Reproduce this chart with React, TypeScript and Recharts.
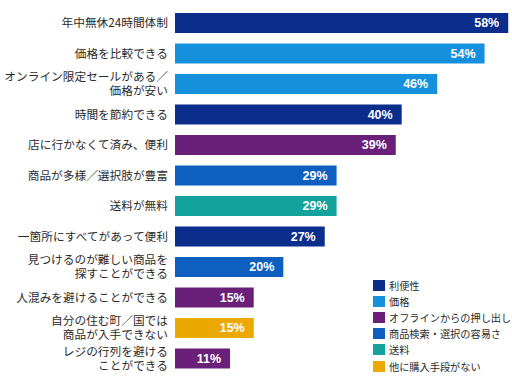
import { BarChart, Bar, XAxis, YAxis, Cell, LabelList } from "recharts";

// 設問の選択肢（改行は "\n"）
const categories = [
  "年中無休24時間体制",
  "価格を比較できる",
  "オンライン限定セールがある／\n価格が安い",
  "時間を節約できる",
  "店に行かなくて済み、便利",
  "商品が多様／選択肢が豊富",
  "送料が無料",
  "一箇所にすべてがあって便利",
  "見つけるのが難しい商品を\n探すことができる",
  "人混みを避けることができる",
  "自分の住む町／国では\n商品が入手できない",
  "レジの行列を避ける\nことができる",
];

const values = [58, 54, 46, 40, 39, 29, 29, 27, 20, 15, 15, 11];

// index into groups for each bar
const groupOfBar = [0, 1, 1, 0, 2, 3, 4, 0, 3, 2, 5, 2];

const groups = [
  "利便性",
  "価格",
  "オフラインからの押し出し",
  "商品検索・選択の容易さ",
  "送料",
  "他に購入手段がない",
];

const groupColors = ["#0b2d8c", "#1590dc", "#6a1f78", "#0f5fc0", "#14a39c", "#eba900"];

const data = categories.map((label, i) => ({ label, value: values[i], group: groupOfBar[i] }));

const FONT = "'Noto Sans CJK JP', 'Noto Sans', sans-serif";

function CategoryTick(props: any) {
  const { y, payload } = props;
  const lines: string[] = String(payload.value).split("\n");
  const lineH = 14;
  const start = y - ((lines.length - 1) * lineH) / 2;
  return (
    <text x={168} y={start} textAnchor="end" fill="#2b2b2b" fontSize={11.7} fontFamily={FONT}>
      {lines.map((ln, i) => (
        <tspan key={i} x={168} y={start + i * lineH} dy="0.36em">
          {ln}
        </tspan>
      ))}
    </text>
  );
}

function GroupLegend() {
  return (
    <div
      style={{
        position: "absolute",
        left: 373,
        top: 277,
        fontFamily: FONT,
        fontSize: 10.2,
        color: "#2b2b2b",
        whiteSpace: "nowrap",
      }}
    >
      {groups.map((g, i) => (
        <div key={g} style={{ display: "flex", alignItems: "center", height: 16.2 }}>
          <span
            style={{ width: 12, height: 11, background: groupColors[i], display: "inline-block", marginRight: 4 }}
          />
          <span>{g}</span>
        </div>
      ))}
    </div>
  );
}

export default function App() {
  return (
    <div style={{ position: "absolute", left: 0, top: 0, width: 512, height: 382, background: "#fff" }}>
      <BarChart
        width={512}
        height={382}
        data={data}
        layout="vertical"
        margin={{ top: 8, right: 2, bottom: 8, left: 0 }}
      >
        <XAxis type="number" hide domain={[1.7, 58.3]} allowDataOverflow />
        <YAxis
          type="category"
          dataKey="label"
          width={175}
          axisLine={false}
          tickLine={false}
          interval={0}
          tick={<CategoryTick />}
        />
        <Bar dataKey="value" barSize={20} isAnimationActive={false}>
          {data.map((d, i) => (
            <Cell key={i} fill={groupColors[d.group]} />
          ))}
          <LabelList
            dataKey="value"
            position="insideRight"
            offset={9}
            formatter={(v: any) => `${v}%`}
            fill="#fff"
            fontSize={12.5}
            fontWeight="bold"
            fontFamily="'Liberation Sans', Arial, sans-serif"
          />
        </Bar>
      </BarChart>
      <GroupLegend />
    </div>
  );
}
